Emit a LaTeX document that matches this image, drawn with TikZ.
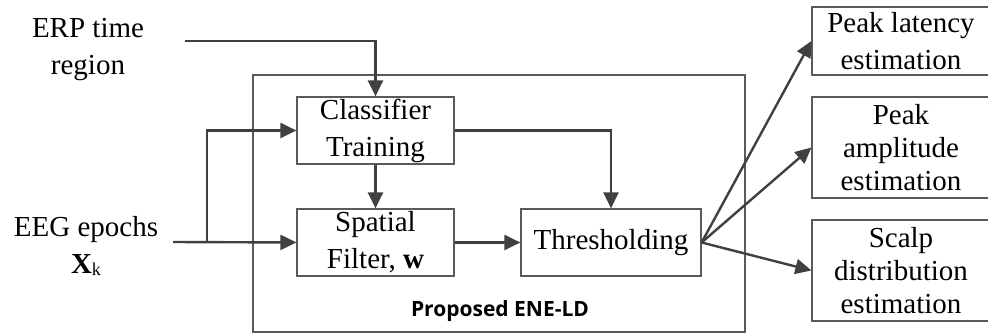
\documentclass[tikz,border=0pt]{standalone}
\usepackage{fontspec}
\setmainfont{Liberation Serif}
\newfontfamily\captionsans{Open Sans}
\usetikzlibrary{arrows.meta}

\definecolor{linegray}{HTML}{404040}
\definecolor{boxgray}{HTML}{5A5A5A}

\begin{document}
\begin{tikzpicture}[x=1pt,y=-1pt,
  txt/.style={inner sep=0pt, align=center, font=\fontsize{29}{37}\selectfont},
  block/.style={txt, draw=boxgray, line width=1.2pt, minimum width=157pt, minimum height=67pt},
  outbox/.style={txt, draw=boxgray, line width=1.2pt, minimum width=178pt},
  tight/.style={font=\fontsize{29}{33}\selectfont},
  flow/.style={draw=linegray, line width=2.4pt, -{Triangle[length=16pt,width=15pt]}}]
  \useasboundingbox (0,0) rectangle (988,336);
  \clip (0,0) rectangle (988,336);

  % enclosing frame of the method
  \node[draw=boxgray, line width=1.2pt, minimum width=492pt, minimum height=257pt, inner sep=0pt] (ene) at (499,203.5) {};
  \node[inner sep=0pt, font=\captionsans\bfseries\fontsize{21}{24}\selectfont] (enelabel) at (500,311) {Proposed ENE-LD};

  % inputs
  \node[txt] (erp) at (88,50) {ERP time\\region};
  \node[txt] (eeg) at (86,246) {EEG epochs\\{\bfseries X}\raisebox{-0.2ex}{\fontsize{18}{18}\selectfont k}};
  \coordinate (erpout) at (185,41);
  \coordinate (eegout) at (173,242);
  \coordinate (branch) at (207,242);

  % processing blocks
  \node[block] (cls) at (375.5,130.5) {Classifier\\Training};
  \node[block] (sf) at (375.5,242.5) {Spatial\\Filter, \textbf{w}};
  \node[block, minimum width=180pt] (thr) at (611,242.5) {Thresholding};

  % outputs
  \node[outbox, minimum height=68pt] (lat) at (901,41) {Peak latency\\estimation};
  \node[outbox, tight, minimum height=101pt] (amp) at (901,147.5) {Peak\\amplitude\\estimation};
  \node[outbox, tight, minimum height=101pt] (scalp) at (901,270.5) {Scalp\\distribution\\estimation};

  % connectors
  \draw[flow] (erpout) -| (cls.north);
  \draw[flow] (eegout) -- (sf.west);
  \draw[flow] (branch) |- (cls.west);
  \draw[flow] (cls.south) -- (sf.north);
  \draw[flow] (cls.east) -| (thr.north);
  \draw[flow] (sf.east) -- (thr.west);
  \draw[flow] (thr.east) -- (lat.west);
  \draw[flow] (thr.east) -- (amp.west);
  \draw[flow] (thr.east) -- (scalp.west);
\end{tikzpicture}
\end{document}
